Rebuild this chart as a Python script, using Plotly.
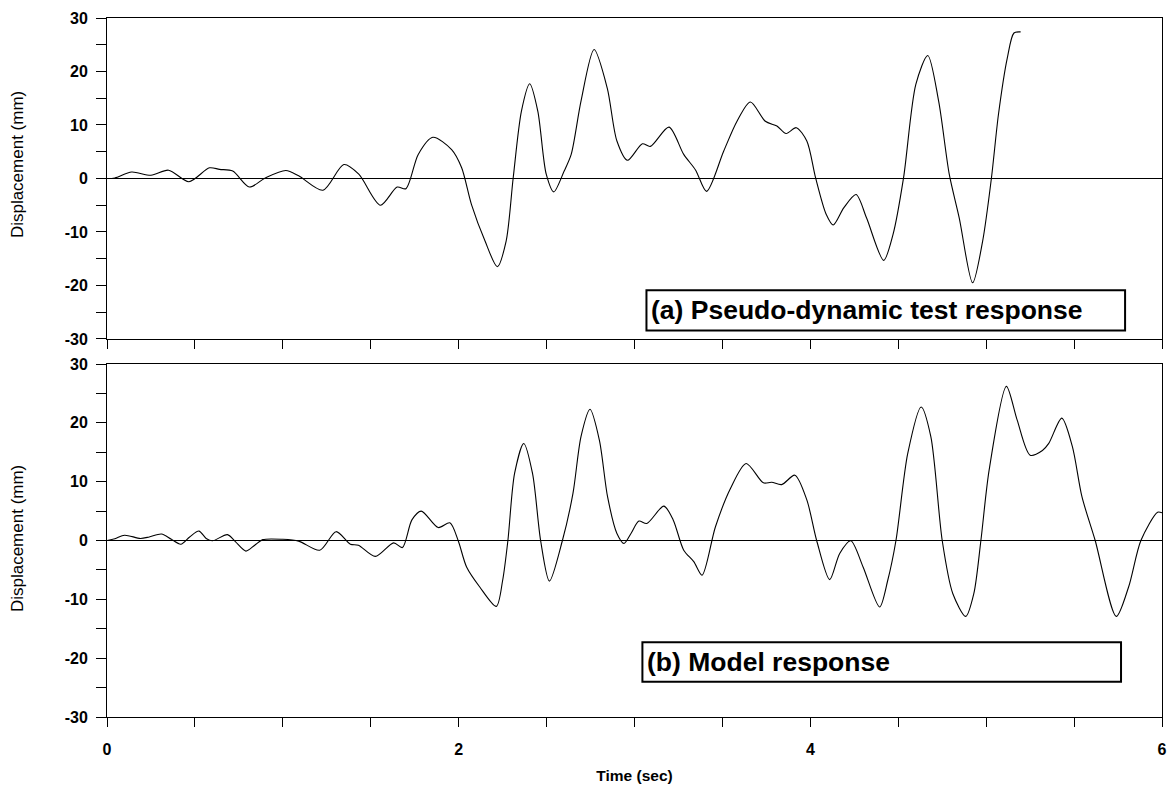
import plotly.graph_objects as go

# (a) Pseudo-dynamic test response
t_test = [0.0, 0.045, 0.14, 0.25, 0.35, 0.466, 0.583, 0.64, 0.715, 0.81, 0.90, 1.017, 1.09,
          1.228, 1.347, 1.432, 1.555, 1.65, 1.70, 1.77, 1.853, 1.96, 2.017, 2.073, 2.15,
          2.22, 2.27, 2.31, 2.357, 2.404, 2.45, 2.498, 2.541, 2.60, 2.64, 2.696, 2.77,
          2.845, 2.90, 2.96, 3.045, 3.09, 3.196, 3.28, 3.347, 3.41, 3.507, 3.583, 3.659,
          3.744, 3.81, 3.862, 3.92, 3.98, 4.03, 4.09, 4.13, 4.19, 4.26, 4.32, 4.417, 4.47,
          4.53, 4.60, 4.668, 4.73, 4.79, 4.847, 4.923, 4.98, 5.03, 5.07, 5.12, 5.158, 5.196]
d_test = [0.0, 0.1, 1.2, 0.6, 1.55, -0.6, 2.0, 1.7, 1.4, -1.6, 0.1, 1.5, 0.5,
          -2.2, 2.6, 0.8, -5.0, -1.6, -1.9, 4.5, 7.7, 5.4, 2.0, -4.9, -11.7,
          -16.5, -11.7, 0.1, 12.6, 17.7, 12.6, 0.8, -2.5, 1.4, 4.5, 14.5, 24.1,
          16.9, 7.0, 3.4, 6.5, 6.0, 9.6, 4.5, 1.6, -2.4, 5.1, 10.7, 14.3,
          10.7, 9.8, 8.4, 9.5, 7.0, 0.1, -6.7, -8.7, -5.5, -3.0, -7.4, -15.3, -10.5,
          0.1, 17.6, 23.0, 14.4, 0.8, -7.4, -19.5, -11.7, 0.1, 12.0, 22.5, 27.2, 27.4]

# (b) Model response
t_model = [0.0, 0.045, 0.10, 0.19, 0.24, 0.31, 0.366, 0.42, 0.47, 0.523, 0.564, 0.60, 0.685,
           0.73, 0.79, 0.84, 0.886, 1.0, 1.09, 1.21, 1.303, 1.384, 1.43, 1.526, 1.63, 1.68,
           1.734, 1.787, 1.884, 1.95, 1.997, 2.045, 2.12, 2.214, 2.25, 2.28, 2.318, 2.37,
           2.42, 2.466, 2.516, 2.59, 2.65, 2.696, 2.747, 2.80, 2.847, 2.90, 2.94, 2.98,
           3.025, 3.07, 3.167, 3.22, 3.28, 3.337, 3.384, 3.46, 3.545, 3.635, 3.733, 3.78,
           3.837, 3.912, 3.98, 4.036, 4.11, 4.167, 4.23, 4.30, 4.394, 4.44, 4.487, 4.554,
           4.63, 4.685, 4.75, 4.81, 4.884, 4.93, 4.97, 5.017, 5.115, 5.176, 5.25, 5.32,
           5.356, 5.43, 5.49, 5.545, 5.62, 5.74, 5.81, 5.88, 5.975, 6.0]
d_model = [0.0, 0.3, 0.9, 0.35, 0.6, 1.1, 0.2, -0.63, 0.6, 1.6, 0.35, -0.05, 1.0,
           -0.2, -1.8, -0.8, 0.15, 0.2, -0.1, -1.65, 1.5, -0.63, -0.8, -2.7, -0.4, -1.2,
           3.5, 5.0, 2.2, 3.0, 0.0, -4.5, -7.9, -11.2, -6.8, 0.0, 11.4, 16.5,
           11.4, 0.0, -6.9, 0.0, 8.0, 17.7, 22.3, 17.1, 7.4, 1.2, -0.5, 1.2,
           3.3, 2.9, 5.85, 3.5, -1.65, -3.6, -5.9, 2.3, 8.8, 13.1, 9.8, 9.9,
           9.5, 11.1, 6.9, 0.0, -6.65, -2.2, -0.05, -4.5, -11.3, -6.8, 0.0, 14.8,
           22.7, 17.7, 0.0, -9.0, -12.9, -9.0, 0.0, 12.0, 26.2, 20.5, 14.5, 15.3,
           16.5, 20.8, 16.0, 7.4, 0.0, -12.9, -7.9, 0.0, 4.8, 4.7]

y_ticks = [-30, -20, -10, 0, 10, 20, 30]
y_labels = ["-30", "-20", "-10", "0", "10", "20", "30"]
x_ticks = [0, 2, 4, 6]
x_labels = ["0", "2", "4", "6"]

FONT = "Arial, Liberation Sans, Helvetica, sans-serif"

fig = go.Figure()
fig.add_trace(go.Scatter(x=t_test, y=d_test, mode="lines", xaxis="x", yaxis="y",
                         line=dict(color="black", width=1.1, shape="spline", smoothing=0.8),
                         showlegend=False))
fig.add_trace(go.Scatter(x=t_model, y=d_model, mode="lines", xaxis="x2", yaxis="y2",
                         line=dict(color="black", width=1.1, shape="spline", smoothing=0.8),
                         showlegend=False))

tickfont = dict(family=FONT, size=16, color="black", weight="bold")

yax = dict(range=[-30, 30], tickvals=y_ticks, ticktext=y_labels,
           ticks="outside", ticklen=10, tickcolor="black", tickwidth=1,
           minor=dict(dtick=5, ticks="outside", ticklen=10, tickcolor="black", tickwidth=1),
           showgrid=False, zeroline=True, zerolinecolor="black", zerolinewidth=1,
           showline=True, linecolor="black", linewidth=1, mirror=True,
           tickfont=tickfont, ticklabelstandoff=5)
xax = dict(range=[0, 6], tickvals=x_ticks, ticktext=x_labels,
           ticks="outside", ticklen=9, tickcolor="black", tickwidth=1,
           minor=dict(dtick=0.5, ticks="outside", ticklen=9, tickcolor="black", tickwidth=1),
           showgrid=False, zeroline=False,
           showline=True, linecolor="black", linewidth=1, mirror=True,
           tickfont=tickfont)

fig.update_layout(
    width=1174, height=791,
    margin=dict(l=107, r=7, t=18, b=74),
    paper_bgcolor="white", plot_bgcolor="white",
    font=dict(family=FONT, color="black"),
    xaxis=dict(xax, domain=[0, 1], anchor="y", showticklabels=False),
    yaxis=dict(yax, domain=[0.5408, 1], anchor="x"),
    xaxis2=dict(xax, domain=[0, 1], anchor="y2", ticklabelstandoff=9,
                title=dict(text="<b>Time (sec)</b>", font=dict(family=FONT, size=15.5), standoff=12)),
    yaxis2=dict(yax, domain=[0, 0.505], anchor="x2"),
)

# y-axis titles
for yc in (0.79, 0.255):
    fig.add_annotation(xref="paper", yref="paper", x=-0.085, y=yc, text="Displacement (mm)",
                       textangle=-90, showarrow=False, xanchor="center", yanchor="middle",
                       font=dict(family=FONT, size=17, color="black"))

# panel label boxes
fig.add_shape(type="rect", xref="x", yref="y", x0=3.068, x1=5.79, y0=-28.4, y1=-20.9,
              line=dict(color="black", width=2), fillcolor="white", layer="above")
fig.add_annotation(xref="x", yref="y", x=3.08, y=-24.65, xanchor="left", yanchor="middle",
                   text="<b>(a) Pseudo-dynamic test response</b>", showarrow=False,
                   font=dict(family=FONT, size=26.5, color="black"))
fig.add_shape(type="rect", xref="x2", yref="y2", x0=3.045, x1=5.767, y0=-24.0, y1=-17.3,
              line=dict(color="black", width=2), fillcolor="white", layer="above")
fig.add_annotation(xref="x2", yref="y2", x=3.057, y=-20.65, xanchor="left", yanchor="middle",
                   text="<b>(b) Model response</b>", showarrow=False,
                   font=dict(family=FONT, size=26.5, color="black"))

fig.write_html("out.html")
